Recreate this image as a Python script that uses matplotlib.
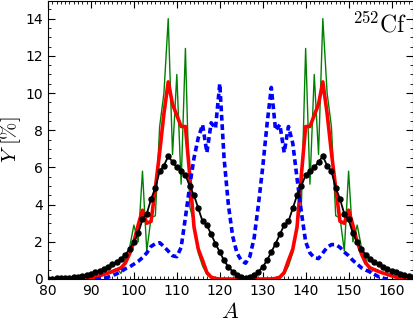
import numpy as np
import matplotlib
matplotlib.use('Agg')
import matplotlib.pyplot as plt
from matplotlib.ticker import MultipleLocator

plt.rcParams['mathtext.fontset'] = 'cm'

# mass numbers, left half (80..126); right half mirrored around A = 126
A_left = np.arange(80, 127)
A = np.arange(80, 166)

# black (dots): 80..126
y_black_left = [0.02, 0.02, 0.03, 0.04, 0.05, 0.07, 0.09, 0.12, 0.16, 0.22,
                0.28, 0.35, 0.43, 0.52, 0.64, 0.78, 0.93, 1.1, 1.3, 1.62,
                2.0, 2.45, 3.2, 3.5, 4.3, 4.9, 5.8, 6.1, 6.6, 6.3,
                6.0, 5.8, 5.6, 5.0, 4.5, 3.8, 3.1, 2.9, 2.4, 1.9,
                1.45, 1.0, 0.65, 0.4, 0.2, 0.1, 0.07]

# red (thick): 80..126
y_red_left = [0, 0, 0, 0, 0, 0, 0, 0, 0.01, 0.02,
              0.05, 0.1, 0.17, 0.25, 0.32, 0.4, 0.5, 0.6, 0.85, 1.35,
              2.0, 2.9, 3.7, 3.0, 3.1, 4.9, 6.8, 8.9, 10.6, 9.4,
              8.8, 8.2, 8.2, 5.6, 2.8, 1.6, 1.0, 0.35, 0.1, 0.03,
              0, 0, 0, 0, 0, 0, 0]

# green (thin): 80..126
y_green_left = [0, 0, 0, 0, 0, 0, 0, 0, 0.01, 0.02,
                0.05, 0.1, 0.17, 0.25, 0.32, 0.45, 0.55, 0.3, 1.1, 1.7,
                2.9, 2.0, 5.8, 1.5, 3.3, 3.4, 8.2, 10.0, 14.0, 6.7,
                11.0, 5.1, 12.4, 3.9, 3.0, 1.4, 0.7, 0.25, 0.08, 0.02,
                0, 0, 0, 0, 0, 0, 0]

# blue (dashed)
A_blue = np.arange(91, 160)
y_blue = [0.0, 0.02, 0.05, 0.1, 0.18, 0.28, 0.4, 0.55, 0.65, 0.8,
          0.95, 1.15, 1.4, 1.75, 1.9, 1.95, 1.75, 1.5, 1.25, 1.2,
          1.7, 3.3, 5.0, 6.5, 7.6, 8.3, 6.8, 8.4, 8.1, 10.5,
          6.5, 4.0, 2.3, 1.4, 1.0, 0.85, 1.2, 2.2, 4.0, 6.0,
          8.3, 10.3, 8.0, 8.3, 6.8, 8.2, 7.3, 5.4, 3.6, 2.0,
          1.4, 1.15, 1.1, 1.4, 1.7, 1.85, 1.85, 1.7, 1.45, 1.25,
          1.0, 0.8, 0.6, 0.48, 0.38, 0.25, 0.12, 0.04, 0.0]


def mirror(left):
    left = np.array(left)
    right = [left[252 - a - 80] for a in range(127, 166)]
    return np.concatenate([left, right])


y_black = mirror(y_black_left)
y_red = mirror(y_red_left)
y_green = mirror(y_green_left)

fig = plt.figure(figsize=(4.14, 3.22), dpi=100)
ax = fig.add_axes([48 / 414, 43 / 322, 365 / 414, 278 / 322])

ax.plot(A, y_green, color='green', lw=1.0, zorder=2)
ax.plot(A, y_red, color='red', lw=2.6, zorder=3)
ax.plot(A_blue, y_blue, color='blue', lw=2.6, dashes=(1.6, 1.0), zorder=4)
ax.plot(A, y_black, color='k', lw=1.3, marker='o', ms=3.6, zorder=5)

ax.set_xlim(80, 165)
ax.set_ylim(0, 14.95)
ax.xaxis.set_major_locator(MultipleLocator(10))
ax.xaxis.set_minor_locator(MultipleLocator(1))
ax.yaxis.set_major_locator(MultipleLocator(2))
ax.yaxis.set_minor_locator(MultipleLocator(0.5))
ax.tick_params(which='both', direction='in', top=True, right=True, labelsize=10)
ax.tick_params(which='major', length=5)
ax.tick_params(which='minor', length=2.5)

ax.set_xlabel(r'$A$', fontsize=16, labelpad=3)
ax.set_ylabel(r'$Y\ [\%]$', fontsize=15, labelpad=1.5)

ax.text(0.983, 0.888, r'$^{252}\mathrm{Cf}$', transform=ax.transAxes,
        ha='right', va='baseline', fontsize=17)

fig.savefig('out.png', dpi=100)
